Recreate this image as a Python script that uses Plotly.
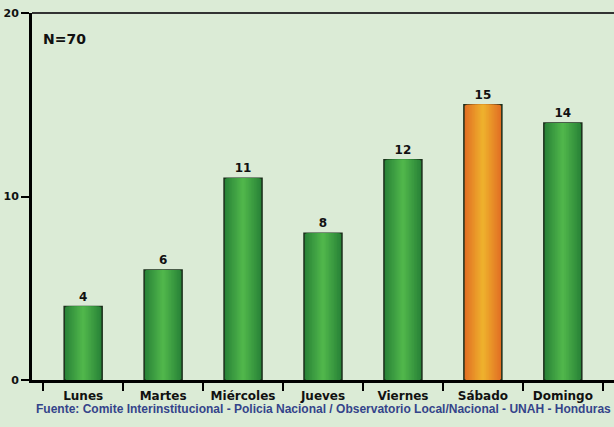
import plotly.graph_objects as go

dias = ["Lunes", "Martes", "Miércoles", "Jueves", "Viernes", "Sábado", "Domingo"]
valores = [4, 6, 11, 8, 12, 15, 14]
destacado = "Sábado"
fuente = "Fuente: Comite Interinstitucional - Policia Nacional / Observatorio Local/Nacional - UNAH - Honduras"
nota = "N=70"

def mix(c1, c2, t):
    return "rgb(%d,%d,%d)" % tuple(round(a + (b - a) * t) for a, b in zip(c1, c2))

green_edge, green_mid = (40, 130, 55), (80, 182, 75)
orange_edge, orange_mid = (226, 110, 35), (238, 176, 45)

fig = go.Figure()
n = 12
W = 0.475
for k in range(n):
    t = k / (n - 1)
    w = W * (1 - t) + 0.04 * t
    cols = [mix(orange_edge, orange_mid, t) if d == destacado else mix(green_edge, green_mid, t) for d in dias]
    fig.add_trace(go.Bar(
        x=dias, y=valores, width=w,
        marker=dict(color=cols, line=dict(width=1.5 if k == 0 else 0, color="#1b2e1b")),
        text=[str(v) for v in valores] if k == 0 else None,
        textposition="outside" if k == 0 else "none",
        textfont=dict(family="DejaVu Sans", size=12, color="#111111", weight="bold"),
        cliponaxis=False, hoverinfo="skip", showlegend=False,
    ))

bg = "#dbebd6"
fig.update_layout(
    barmode="overlay",
    width=614, height=427,
    margin=dict(l=32, r=0, t=13, b=47),
    paper_bgcolor=bg, plot_bgcolor=bg,
    font=dict(family="DejaVu Sans", color="#111111"),
    xaxis=dict(
        type="category", range=[-0.64, 6.64], tickson="boundaries",
        ticks="outside", ticklen=8, tickwidth=2, tickcolor="black",
        showline=True, linecolor="black", linewidth=3,
        showgrid=False, ticklabelstandoff=3,
        tickfont=dict(family="DejaVu Sans", size=12, color="#111111", weight="bold"),
    ),
    yaxis=dict(
        range=[0, 20], tickvals=[0, 10, 20],
        ticks="outside", ticklen=8, tickwidth=2, tickcolor="black",
        showline=True, linecolor="black", linewidth=3,
        showgrid=False, zeroline=False, ticklabelstandoff=0,
        tickfont=dict(family="DejaVu Sans", size=11, color="#111111", weight="bold"),
    ),
    shapes=[dict(type="line", xref="paper", yref="paper", x0=0, x1=1, y0=1, y1=1,
                 line=dict(color="#333333", width=2))],
    annotations=[
        dict(text=nota, xref="paper", yref="paper", x=0.016, y=0.93, xanchor="left", yanchor="middle",
             showarrow=False, font=dict(family="DejaVu Sans", size=14, color="#111111", weight="bold")),
        dict(text=fuente, xref="paper", yref="paper", x=0.5, y=-0.08, xanchor="center", yanchor="middle",
             showarrow=False, yshift=0,
             font=dict(family="Liberation Sans", size=12, color="#34448a", weight="bold")),
    ],
)
fig.write_html("out.html", config={"displayModeBar": False},
               post_script="document.body.style.margin='0';document.body.style.padding='0';document.body.style.overflow='hidden';")
